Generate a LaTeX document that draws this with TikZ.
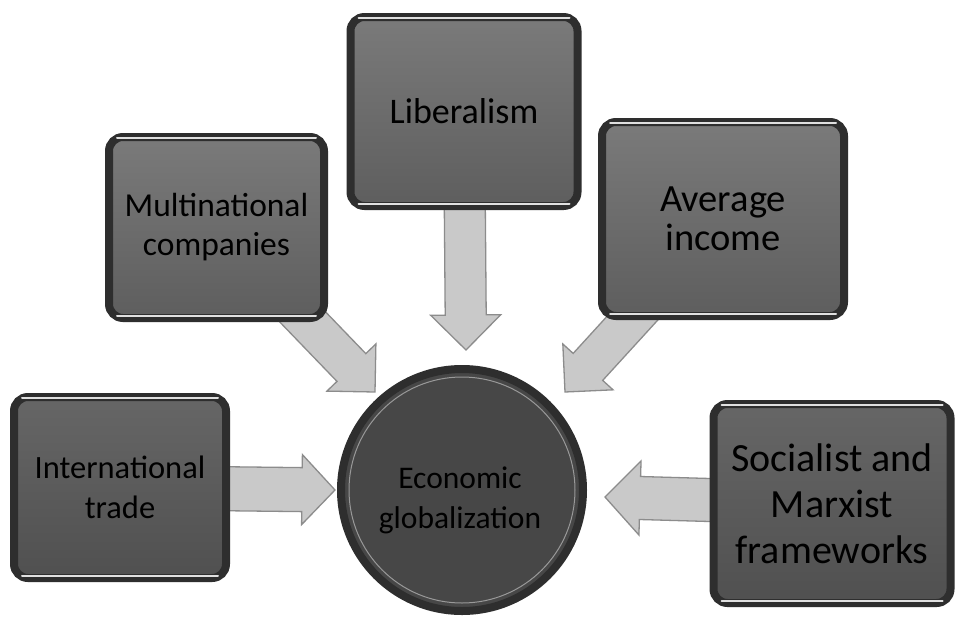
\documentclass[tikz,border=0pt]{standalone}
\usepackage{fontspec}
\setmainfont{Carlito}
\usetikzlibrary{calc,shadows}
\definecolor{rim}{HTML}{2E2E2E}
\definecolor{boxtop}{HTML}{7A7A7A}
\definecolor{boxbot}{HTML}{5E5E5E}
\definecolor{lowtop}{HTML}{666666}
\definecolor{lowbot}{HTML}{505050}
\definecolor{arrfill}{HTML}{C9C9C9}
\definecolor{arredge}{HTML}{8C8C8C}
\tikzset{
  boxsty/.style={rectangle, rounded corners=14pt, draw=rim, line width=8pt,
    top color=boxtop, bottom color=boxbot, align=center, text=black,
    inner sep=0pt, drop shadow={shadow xshift=3pt, shadow yshift=-3pt, opacity=0.35}},
  lowbox/.style={boxsty, top color=lowtop, bottom color=lowbot},
  hubsty/.style={circle, draw=rim, line width=8pt, fill=black!72,
    inner sep=0pt, minimum size=242pt,
    drop shadow={shadow xshift=3pt, shadow yshift=-3pt, opacity=0.35}},
  hubtext/.style={align=center, text=black, inner sep=0pt},
  arrsty/.style={fill=arrfill, draw=arredge, line width=1.3pt, line join=miter},
  hl/.style={draw=white!88!black, line width=2pt, line cap=round},
}
\newcommand\blockarrow[5]{%
  \coordinate (hb) at ($(#2)!#5pt!(#1)$);
  \draw[arrsty] ($(#1)!#3pt!90:(#2)$) -- ($(hb)!#3pt!90:(#2)$) -- ($(hb)!#4pt!90:(#2)$)
     -- (#2) -- ($(hb)!#4pt!-90:(#2)$) -- ($(hb)!#3pt!-90:(#2)$) -- ($(#1)!#3pt!-90:(#2)$) -- cycle;
}
\newcommand\glint[1]{%
  \draw[hl] ([xshift=12pt,yshift=-5pt]#1.north west) -- ([xshift=-12pt,yshift=-5pt]#1.north east);
  \draw[hl] ([xshift=12pt,yshift=6pt]#1.south west) -- ([xshift=-12pt,yshift=6pt]#1.south east);
}
\begin{document}
\begin{tikzpicture}[x=1pt,y=-1pt]
\useasboundingbox[fill=white] (0,0) rectangle (959,619);

% named anchor points (box centres, arrow tips)
\coordinate (cLib) at (464,111.5);
\coordinate (cMul) at (216.5,227.5);
\coordinate (cAvg) at (723,219);
\coordinate (cInt) at (120,487.5);
\coordinate (cSoc) at (832,503.5);
\coordinate (tLib) at (466,350);
\coordinate (tMul) at (375,392);
\coordinate (tAvg) at (565,392);
\coordinate (tInt) at (335,490);
\coordinate (tSoc) at (605,497);

% arrows (drawn first, boxes cover their roots)
\blockarrow{cLib}{tLib}{20.5}{35}{35}
\blockarrow{cMul}{tMul}{20}{34}{34}
\blockarrow{cAvg}{tAvg}{20}{34}{34}
\blockarrow{cInt}{tInt}{22}{35}{33}
\blockarrow{cSoc}{tSoc}{21.5}{37}{35}

% boxes
\node[boxsty, minimum width=227pt, minimum height=189pt,
  font=\fontsize{36}{41}\selectfont] (lib) at (cLib) {Liberalism};
\node[boxsty, minimum width=215pt, minimum height=181pt,
  font=\fontsize{33.5}{39}\selectfont] (mul) at (cMul) {Multinational\\companies};
\node[boxsty, minimum width=242pt, minimum height=194pt,
  font=\fontsize{38.5}{39}\selectfont] (avg) at (cAvg) {Average\\income};
\node[lowbox, minimum width=212pt, minimum height=181pt,
  font=\fontsize{32.5}{40}\selectfont] (int) at (cInt) {International\\trade};
\node[lowbox, minimum width=237pt, minimum height=199pt,
  font=\fontsize{40}{46}\selectfont] (soc) at (cSoc) {Socialist and\\Marxist\\frameworks};
\glint{lib}\glint{mul}\glint{avg}\glint{int}\glint{soc}

% hub
\node[hubsty] (hub) at (462,490) {};
\draw[white!60!black, line width=1pt] (hub.center) circle (113pt);
\node[hubtext, font=\fontsize{31.5}{40}\selectfont] (hubt) at (460,500) {Economic\\globalization};
\end{tikzpicture}
\end{document}
